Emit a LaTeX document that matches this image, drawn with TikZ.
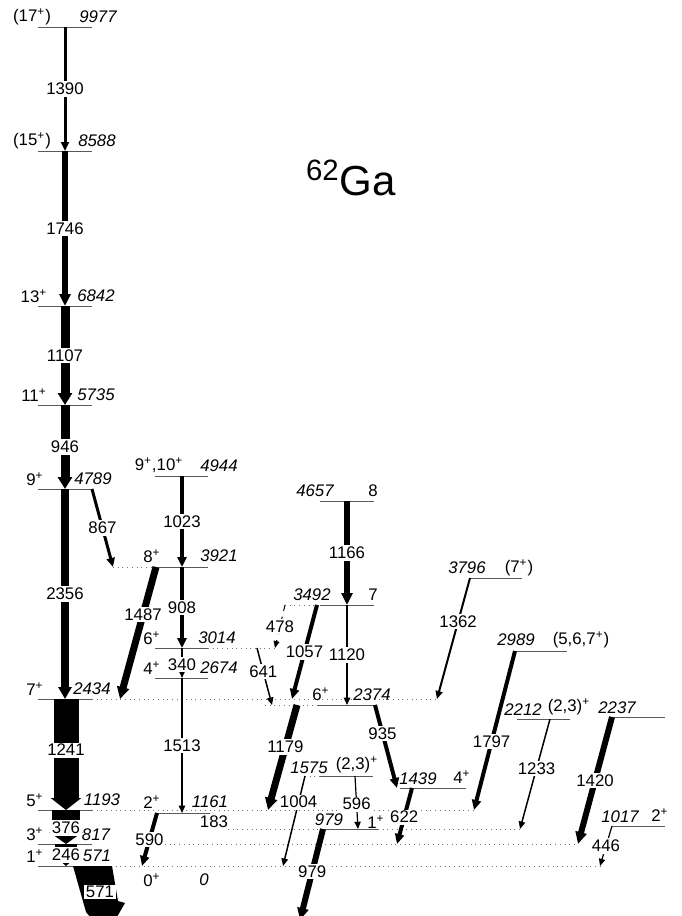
\documentclass[tikz,border=0pt]{standalone}
\usepackage{fontspec}
\setmainfont{Liberation Sans}
\usetikzlibrary{arrows.meta}
\newcommand{\spp}{\textsuperscript{+}}

\begin{document}
\begin{tikzpicture}[x=0.5pt, y=-0.5pt,
    every node/.style={font=\fontsize{8.4}{10}\selectfont, inner sep=1pt},
    lvl/.style={draw=black!65, line width=0.35pt},
    ext/.style={draw=black!55, line width=0.35pt, dotted},
    tlab/.style={fill=white, inner sep=0.8pt},
    en/.style={font=\fontsize{8.4}{10}\selectfont\itshape}]

    \useasboundingbox (0,0) rectangle (681,916);

    % levels, then their dotted extensions
    \foreach \xa/\xb/\y in {
        38/92/27, 38/92/151, 38/92/306, 38/92/405, 38/92/489,
        38/92/699, 38/92/810, 38/92/844, 38/92/866,
        155/208/476, 155/208/567, 155/208/648, 155/208/678, 157/210/813,
        320/374/501, 320/374/605, 318/374/705, 320/373/776, 320/378/829,
        400/466/788, 470/522/578, 515/567/651, 517/570/719,
        610/665/717, 612/665/826%
    }
        \draw[lvl] (\xa,\y) -- (\xb,\y);
    \foreach \xa/\xb/\y in {
        92/437/699, 92/474/810, 165/578/844, 92/600/866,
        228/320/829, 378/520/829, 113/155/567, 208/277/648,
        285/320/605, 265/318/705, 305/320/776%
    }
        \draw[ext] (\xa,\y) -- (\xb,\y);

    % gamma transitions: start / end / width (px) / energy / label pos
    \foreach \xa/\ya/\xb/\yb/\w/\e/\p in {
        65/27/65/151/3/1390/0.5,    65/151/65/306/6/1746/0.5,
        65/306/65/405/9/1107/0.5,   65/405/65/489/9/946/0.5,
        65/489/65/699/8/2356/0.5,   66/699/66/810/25/1241/0.46,
        66/810/66/844/28/376/0.53,  66/844/66/866/22/246/0.5,
        92/489/113/567/3/867/0.5,   182/476/182/567/4/1023/0.5,
        182/567/182/648/4/908/0.5,  182/648/182/678/2/340/0.55,
        182/678/182/813/1.5/1513/0.5, 156/567/120/699/7/1487/0.36,
        157/813/142/866/4/590/0.5,
        347/501/347/605/6/1166/0.5, 347/605/347/705/1.5/1120/0.5,
        257/648/272/705/1.5/641/0.42, 317/605/292/699/4/1057/0.5,
        297/705/268/810/7/1179/0.4, 375/705/397/788/4/935/0.34,
        305/776/283/866/1.5/1004/0.29, 355/776/358/829/1.2/596/0.53,
        323/829/300/920/6/979/0.47, 412/788/397/844/4/622/0.52,
        470/578/437/699/2/1362/0.36, 515/651/474/810/4/1797/0.57,
        550/719/520/829/1.5/1233/0.45, 612/717/578/844/6/1420/0.5,
        612/826/600/866/1.2/446/0.5%
    }{%
        \pgfmathsetmacro{\lw}{\w*0.5}
        \pgfmathsetmacro{\hw}{(\w+5)*0.5}
        \pgfmathsetmacro{\hl}{(6+min(\w,6))*0.5}
        \draw[line width=\lw pt, -{Triangle[width=\hw pt, length=\hl pt]}]
            (\xa,\ya) -- (\xb,\yb) node[tlab, pos=\p] (g\e) {\e};
    }
    % the ground-state 571 line, cut flat at its level
    \fill (73,866) -- (112,866) -- (118,901) -- (125,903) -- (106,936)
        -- (86,912) -- cycle;
    \node[tlab] (g571) at (100,892) {571};
    % the weak 478 line
    \draw[dashed, line width=0.5pt, -{Triangle[width=3pt, length=3.5pt]}]
        (285,605) -- (275,648) node[tlab, pos=0.5] (g478) {478};
    \node (g183) at (214,822) {183};

    % spins and parities
    \foreach \x/\y/\t [count=\i] in {
        32/17/(17\spp), 32/141/(15\spp), 34/296/13\spp, 34/395/11\spp,
        35/479/9\spp, 35/689/7\spp, 35/800/5\spp, 35/834/3\spp,
        35/856/1\spp, 152/880/0\spp, 159/465/{9\spp,10\spp},
        152/556/8\spp, 152/638/6\spp, 152/668/4\spp, 152/802/2\spp,
        373/491/8, 373/595/7, 321/694/6\spp, 357/765/{(2,3)\spp},
        376/822/1\spp, 462/777/4\spp, 519/568/(7\spp),
        581/640/{(5,6,7\spp)}, 569/707/{(2,3)\spp}, 660/815/2\spp%
    }
        \node (s\i) at (\x,\y) {\t};

    % level energies
    \foreach \x/\y/\t in {
        98/17/9977, 97/141/8588, 96/296/6842, 96/395/5735, 93/479/4789,
        92/689/2434, 102/800/1193, 96/835/817, 97/856/571, 204/880/0,
        219/466/4944, 219/556/3921, 217/638/3014, 219/668/2674,
        210/802/1161, 315/491/4657, 312/595/3492, 372/695/2374,
        309/768/1575, 329/820/979, 418/779/1439, 467/568/3796,
        516/640/2989, 523/710/2212, 617/708/2237, 620/817/1017%
    }
        \node[en] (e\t) at (\x,\y) {\t};

    \node[font=\fontsize{21}{24}\selectfont] (title) at (351,178)
        {\textsuperscript{62}Ga};
\end{tikzpicture}
\end{document}
